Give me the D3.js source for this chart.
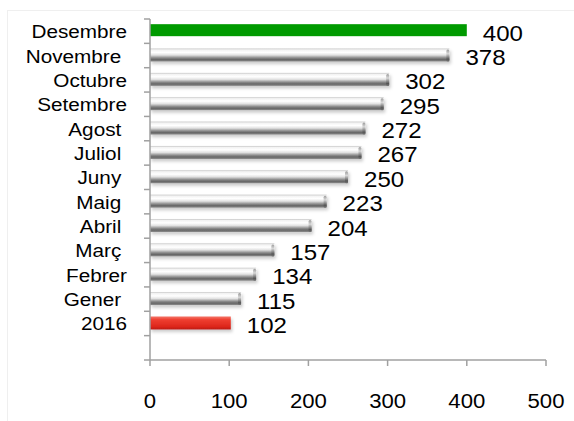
<html>
<head>
<meta charset="utf-8">
<title>Bars</title>
<script src="https://d3js.org/d3.v7.min.js"></script>
<style>
  body { margin: 0; background: #fff; }
  text { font-family: Arial, "Liberation Sans", sans-serif; fill: #000; white-space: pre; }
</style>
</head>
<body>
<svg id="chart"></svg>
<script>
const categories = ["Desembre", "Novembre ", "Octubre", "Setembre", "Agost ", "Juliol ", "Juny ", "Maig ", "Abril ", "Març ", "Febrer", "Gener ", "2016", ""];
const values = [400, 378, 302, 295, 272, 267, 250, 223, 204, 157, 134, 115, 102, null];
const xTicks = [0, 100, 200, 300, 400, 500];

const width = 574, height = 421;
const svg = d3.select("#chart").attr("width", width).attr("height", height);

// faint outer frame
svg.append("rect").attr("x", 7.5).attr("y", 10.5).attr("width", 600).attr("height", 500)
    .attr("fill", "none").attr("stroke", "#efefef");

const x = d3.scaleLinear().domain([0, 500]).range([150, 546]);
const y = d3.scaleBand().domain(d3.range(categories.length)).range([19, 360]);

const defs = svg.append("defs");
const grey = defs.append("linearGradient").attr("id", "grey").attr("x1", 0).attr("x2", 0).attr("y1", 0).attr("y2", 1);
[[0, "#c4c4c4"], [0.1, "#f2f2f2"], [0.3, "#ffffff"], [0.5, "#e2e2e2"], [0.72, "#8a8a8a"], [0.85, "#666"], [1, "#8e8e8e"]]
    .forEach(s => grey.append("stop").attr("offset", s[0]).attr("stop-color", s[1]));
const red = defs.append("linearGradient").attr("id", "red").attr("x1", 0).attr("x2", 0).attr("y1", 0).attr("y2", 1);
[[0, "#f3786c"], [0.25, "#ef3e30"], [0.8, "#dc251b"], [1, "#b81c14"]]
    .forEach(s => red.append("stop").attr("offset", s[0]).attr("stop-color", s[1]));
const cap = defs.append("linearGradient").attr("id", "cap").attr("x1", 0).attr("x2", 0).attr("y1", 0).attr("y2", 1);
[[0, "#9a9a9a"], [0.35, "#d8d8d8"], [0.8, "#555"], [1, "#777"]]
    .forEach(s => cap.append("stop").attr("offset", s[0]).attr("stop-color", s[1]));
const shadow = defs.append("filter").attr("id", "shadow").attr("x", "-5%").attr("y", "-50%").attr("width", "110%").attr("height", "200%");
shadow.append("feDropShadow").attr("dx", 1.5).attr("dy", 2.5).attr("stdDeviation", 1.8).attr("flood-color", "#000").attr("flood-opacity", 0.2);

const barH = 13;
const rows = categories.map((c, i) => ({c, v: values[i], i})).filter(d => d.v != null);

const bars = svg.append("g");
bars.selectAll("rect.bar")
    .data(rows)
    .join("rect")
    .attr("class", "bar")
    .attr("x", x(0))
    .attr("y", d => y(d.i) + y.bandwidth() / 2 - barH / 2 - 0.5)
    .attr("width", d => x(d.v) - x(0))
    .attr("height", d => d.i === 0 ? 12 : barH)
    .attr("fill", d => d.i === 0 ? "#009a00" : d.c === "2016" ? "url(#red)" : "url(#grey)")
    .attr("filter", d => d.i === 0 ? null : "url(#shadow)");

// darker end caps on the grey bars
bars.selectAll("rect.cap")
    .data(rows.filter(d => d.i !== 0 && d.c !== "2016"))
    .join("rect")
    .attr("class", "cap")
    .attr("x", d => x(d.v) - 3)
    .attr("y", d => y(d.i) + y.bandwidth() / 2 - barH / 2 + 0.5)
    .attr("width", 3)
    .attr("height", barH - 1)
    .attr("rx", 1.5)
    .attr("fill", "url(#cap)");

// axes
const axisColor = "#a0a0a0";
const ax = svg.append("g").attr("stroke", axisColor).attr("stroke-width", 1.5).attr("fill", "none");
ax.append("line").attr("x1", x(0)).attr("x2", x(0)).attr("y1", 19).attr("y2", 360);
ax.append("line").attr("x1", x(0)).attr("x2", x(500)).attr("y1", 360).attr("y2", 360);
ax.selectAll("line.yt")
    .data(d3.range(categories.length + 1))
    .join("line")
    .attr("x1", x(0) - 6).attr("x2", x(0))
    .attr("y1", i => i < categories.length ? y(i) : 360)
    .attr("y2", i => i < categories.length ? y(i) : 360);
ax.selectAll("line.xt")
    .data(xTicks)
    .join("line")
    .attr("x1", d => x(d)).attr("x2", d => x(d))
    .attr("y1", 360).attr("y2", 366);

const stretch = 1.12;

// category labels
svg.append("g").selectAll("text")
    .data(categories)
    .join("text")
    .attr("transform", (d, i) => `translate(127,${y(i) + y.bandwidth() / 2 + 7}) scale(${stretch},1)`)
    .attr("text-anchor", "end")
    .attr("font-size", 18.5)
    .text(d => d);

// value labels
svg.append("g").selectAll("text")
    .data(rows)
    .join("text")
    .attr("transform", d => `translate(${x(d.v) + 16},${y(d.i) + y.bandwidth() / 2 + 9.5}) scale(${stretch},1)`)
    .attr("font-size", 21.5)
    .text(d => d.v);

// x tick labels
svg.append("g").selectAll("text")
    .data(xTicks)
    .join("text")
    .attr("transform", d => `translate(${x(d)},408) scale(1.08,1)`)
    .attr("text-anchor", "middle")
    .attr("font-size", 20.5)
    .text(d => d);
</script>
</body>
</html>
